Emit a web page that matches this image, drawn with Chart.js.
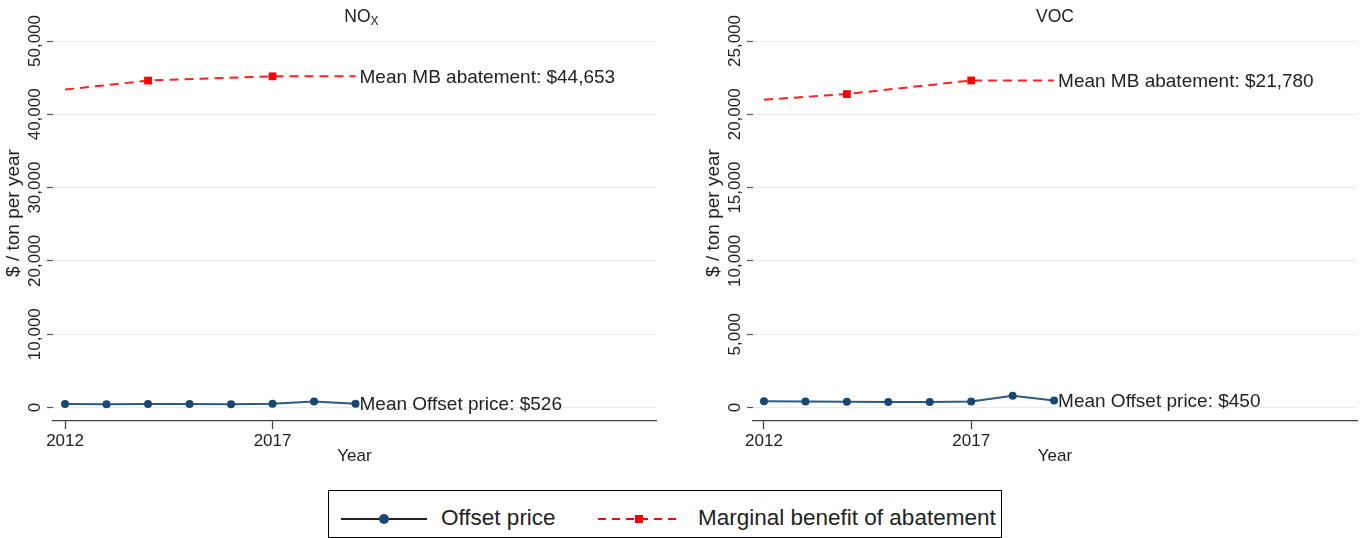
<!DOCTYPE html>
<html>
<head>
<meta charset="utf-8">
<script src="https://cdn.jsdelivr.net/npm/chart.js@4.4.0/dist/chart.umd.min.js"></script>
<style>
  body { margin: 0; background: #fff; width: 1361px; height: 538px; overflow: hidden; position: relative;
         font-family: "Liberation Sans", Arial, sans-serif; color: #222; }
  #noxChart { position: absolute; left: 0; top: 0; }
  #vocChart { position: absolute; left: 700px; top: 0; }
  .legend { position: absolute; left: 328px; top: 490px; width: 674px; height: 48px;
            border: 1px solid #000; box-sizing: border-box; }
  .legend svg { position: absolute; top: 18px; }
  .legend span { position: absolute; top: 14px; font-size: 22.5px; line-height: 26px; white-space: nowrap; }
</style>
</head>
<body>
<canvas id="noxChart" width="700" height="471"></canvas>
<canvas id="vocChart" width="661" height="471"></canvas>

<div class="legend">
  <svg style="left:12px" width="86" height="20">
    <line x1="0" y1="10" x2="86" y2="10" stroke="#222" stroke-width="2"/>
    <circle cx="43" cy="10" r="5" fill="#1a476f"/>
  </svg>
  <span style="left:112px">Offset price</span>
  <svg style="left:269px" width="84" height="20">
    <line x1="0" y1="10" x2="84" y2="10" stroke="#ff0000" stroke-width="2" stroke-dasharray="8,6"/>
    <rect x="37" y="6" width="8" height="8" fill="#ff0000"/>
  </svg>
  <span style="left:369px">Marginal benefit of abatement</span>
</div>

<script>
const FONT = '"Liberation Sans", Arial, sans-serif';

// offset prices, one value per year
const years = [2012, 2013, 2014, 2015, 2016, 2017, 2018, 2019];
const noxOffset = [480, 460, 470, 480, 450, 520, 830, 500];
const vocOffset = [430, 410, 390, 380, 370, 410, 800, 480];

// marginal benefit of abatement (markers only on the estimate years)
const mbYears = [2012, 2014, 2017, 2019];
const mbMarkerYears = [2014, 2017];
const noxMB = [43370, 44600, 45180, 45180];
const vocMB = [21000, 21380, 22310, 22310];

// axes
const xTicks = [2012, 2017];
const noxTicks = [0, 10000, 20000, 30000, 40000, 50000];
const vocTicks = [0, 5000, 10000, 15000, 20000, 25000];

const noxLabels = ["Mean Offset price: $526", "Mean MB abatement: $44,653"];
const vocLabels = ["Mean Offset price: $450", "Mean MB abatement: $21,780"];

const panelText = {
  id: "panelText",
  afterDraw(chart, args, opts) {
    const ctx = chart.ctx;
    const area = chart.chartArea;
    const y = chart.scales.y;
    ctx.save();
    ctx.fillStyle = "#222";

    // rotated y tick labels
    ctx.font = "17px " + FONT;
    ctx.textAlign = "center";
    ctx.textBaseline = "middle";
    opts.yTicks.forEach(v => {
      ctx.save();
      ctx.translate(35, y.getPixelForValue(v));
      ctx.rotate(-Math.PI / 2);
      ctx.fillText(v.toLocaleString("en-US"), 0, 0);
      ctx.restore();
    });

    // y title
    ctx.save();
    ctx.translate(14, 213);
    ctx.rotate(-Math.PI / 2);
    ctx.font = "19px " + FONT;
    ctx.fillText("$ / ton per year", 0, 0);
    ctx.restore();

    // panel title, with optional subscript
    const cx = (area.left + area.right) / 2 + opts.shift;
    ctx.font = "17.5px " + FONT;
    const w1 = ctx.measureText(opts.title).width;
    ctx.font = "12px " + FONT;
    const w2 = opts.sub ? ctx.measureText(opts.sub).width : 0;
    let x0 = cx - (w1 + w2) / 2;
    ctx.textAlign = "left";
    ctx.textBaseline = "alphabetic";
    ctx.font = "17.5px " + FONT;
    ctx.fillText(opts.title, x0, 22);
    if (opts.sub) {
      ctx.font = "12px " + FONT;
      ctx.fillText(opts.sub, x0 + w1, 25);
    }

    // mean labels next to the last point of each series
    ctx.font = "19px " + FONT;
    ctx.textBaseline = "middle";
    chart.data.datasets.forEach((ds, i) => {
      const pts = chart.getDatasetMeta(i).data;
      const last = pts[pts.length - 1];
      ctx.fillText(opts.labels[i], last.x + 4, last.y + 1);
    });
    ctx.restore();
  }
};

function makePanel(id, offset, mb, yTicks, yMin, xMin, xMax, padRight, title, sub, shift, labels) {
  return new Chart(document.getElementById(id), {
    type: "line",
    data: {
      datasets: [
        {
          label: "Offset price",
          data: years.map((yr, i) => ({ x: yr, y: offset[i] })),
          borderColor: "#2a5a85",
          borderWidth: 2,
          backgroundColor: "#1a476f",
          pointBackgroundColor: "#1a476f",
          pointBorderWidth: 0,
          pointRadius: 4,
          tension: 0
        },
        {
          label: "Marginal benefit of abatement",
          data: mbYears.map((yr, i) => ({ x: yr, y: mb[i] })),
          borderColor: "#ff2020",
          borderWidth: 2,
          borderDash: [9, 6],
          backgroundColor: "#ff0000",
          pointStyle: "rect",
          pointBorderWidth: 0,
          pointRadius: ctx => mbMarkerYears.includes(mbYears[ctx.dataIndex]) ? 5.5 : 0,
          tension: 0
        }
      ]
    },
    options: {
      responsive: false,
      animation: false,
      devicePixelRatio: 1,
      layout: { padding: { top: 41, right: padRight, left: 0, bottom: 0 } },
      plugins: {
        legend: { display: false },
        tooltip: { enabled: false },
        panelText: { yTicks: yTicks, title: title, sub: sub, shift: shift, labels: labels }
      },
      scales: {
        x: {
          type: "linear",
          min: xMin,
          max: xMax,
          afterBuildTicks: s => { s.ticks = xTicks.map(v => ({ value: v })); },
          afterFit: s => { s.height = 50; },
          ticks: { color: "#222", font: { family: FONT, size: 17 }, padding: 2, maxRotation: 0,
                   callback: v => String(v) },
          grid: { drawOnChartArea: false, drawTicks: true, tickLength: 8, tickColor: "#444", tickWidth: 1.3 },
          border: { display: true, color: "#444", width: 1.3 },
          title: { display: true, text: "Year", color: "#222", font: { family: FONT, size: 17 },
                   padding: { top: 0, bottom: 4 } }
        },
        y: {
          min: yMin,
          max: yTicks[yTicks.length - 1],
          afterBuildTicks: s => { s.ticks = yTicks.map(v => ({ value: v })); },
          afterFit: s => { s.width = 53; },
          ticks: { display: false },
          grid: { color: "#ebebeb", lineWidth: 1, drawTicks: true, tickLength: 6, tickColor: "#555", tickWidth: 1.2 },
          border: { display: false }
        }
      }
    },
    plugins: [panelText]
  });
}

makePanel("noxChart", noxOffset, noxMB, noxTicks, -1840, 2011.71, 2026.24, 44, "NO", "X", 7, noxLabels);
makePanel("vocChart", vocOffset, vocMB, vocTicks, -920, 2011.735, 2026.31, 3, "VOC", "", 0, vocLabels);
</script>
</body>
</html>
